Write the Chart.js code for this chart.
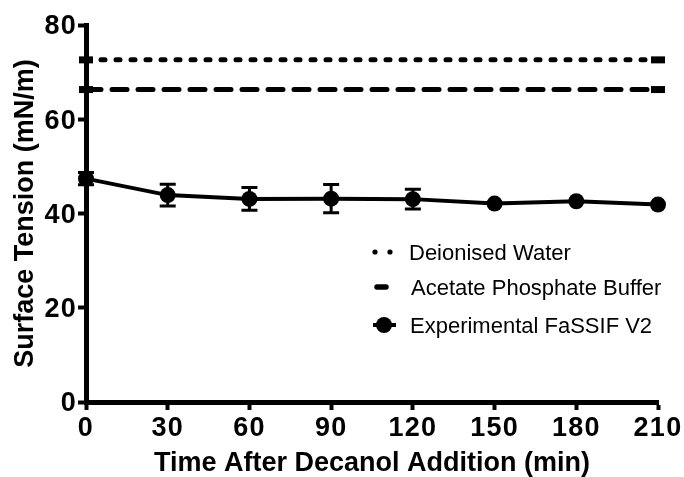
<!DOCTYPE html>
<html>
<head>
<meta charset="utf-8">
<script src="https://cdn.jsdelivr.net/npm/chart.js@4"></script>
<style>
  html, body { margin: 0; padding: 0; background: #fff; }
  #wrap { width: 684px; height: 477px; position: relative; }
</style>
</head>
<body>
<div id="wrap"><canvas id="c"></canvas></div>
<script>
// ---- data ----
const times = [0, 30, 60, 90, 120, 150, 180, 210];
const fassifMean = [47.4, 43.9, 43.1, 43.15, 43.05, 42.1, 42.6, 41.9];
const fassifErr = [1.3, 2.3, 2.4, 3.0, 2.1, 0, 0, 0];
const waterValue = 72.6;
const bufferValue = 66.3;
const seriesLabels = ["Deionised Water", "Acetate Phosphate Buffer", "Experimental FaSSIF V2"];
const xTicks = [0, 30, 60, 90, 120, 150, 180, 210];
const yTicks = [0, 20, 40, 60, 80];
const xTitle = "Time After Decanol Addition (min)";
const yTitle = "Surface Tension (mN/m)";

const FONT = "'Liberation Sans', Arial, Helvetica, sans-serif";

// slightly wider lettering for the tick numbers, as in the reference; titles unspaced
const spacing = {
  id: 'spacing',
  beforeDraw(chart) {
    chart.ctx.letterSpacing = '1.25px';
    [chart.scales.x, chart.scales.y].forEach(s => {
      if (s._wrappedTitle) return;
      const orig = s.drawTitle.bind(s);
      s.drawTitle = function () {
        const ctx = this.ctx;
        const prev = ctx.letterSpacing;
        ctx.letterSpacing = '0px';
        orig();
        ctx.letterSpacing = prev;
      };
      s._wrappedTitle = true;
    });
  }
};

const errorBars = {
  id: 'errorBars',
  afterDatasetsDraw(chart) {
    const ctx = chart.ctx;
    const xs = chart.scales.x, ys = chart.scales.y;
    ctx.save();
    ctx.strokeStyle = '#000';
    ctx.lineWidth = 3;
    times.forEach((t, i) => {
      const e = fassifErr[i];
      if (!e) return;
      const px = xs.getPixelForValue(t);
      const top = ys.getPixelForValue(fassifMean[i] + e);
      const bot = ys.getPixelForValue(fassifMean[i] - e);
      ctx.beginPath();
      ctx.moveTo(px, top); ctx.lineTo(px, bot);
      ctx.moveTo(px - 8, top); ctx.lineTo(px + 8, top);
      ctx.moveTo(px - 8, bot); ctx.lineTo(px + 8, bot);
      ctx.stroke();
    });
    ctx.restore();
  }
};

const customLegend = {
  id: 'customLegend',
  afterDraw(chart) {
    const ctx = chart.ctx;
    ctx.save();
    ctx.letterSpacing = '0px';
    ctx.fillStyle = '#000';
    ctx.strokeStyle = '#000';
    // row 1: dots
    ctx.beginPath(); ctx.arc(375, 252, 2.6, 0, Math.PI * 2); ctx.fill();
    ctx.beginPath(); ctx.arc(390, 252, 2.6, 0, Math.PI * 2); ctx.fill();
    // row 2: dash
    ctx.lineWidth = 5.5; ctx.lineCap = 'round';
    ctx.beginPath(); ctx.moveTo(377, 287); ctx.lineTo(386, 287); ctx.stroke();
    // row 3: line + circle
    ctx.lineWidth = 4; ctx.lineCap = 'butt';
    ctx.beginPath(); ctx.moveTo(373, 325); ctx.lineTo(396, 325); ctx.stroke();
    ctx.beginPath(); ctx.arc(384, 325, 8, 0, Math.PI * 2); ctx.fill();
    ctx.font = "22px " + FONT;
    ctx.textBaseline = 'alphabetic';
    ctx.textAlign = 'left';
    ctx.fillText(seriesLabels[0], 409, 260);
    ctx.fillText(seriesLabels[1], 411, 295);
    ctx.fillText(seriesLabels[2], 410, 333);
    ctx.restore();
  }
};

new Chart(document.getElementById('c'), {
  type: 'line',
  data: {
    datasets: [
      {
        label: seriesLabels[0],
        data: [{x: times[0], y: waterValue}, {x: times[times.length - 1], y: waterValue}],
        borderColor: '#000', backgroundColor: '#000',
        borderWidth: 5, borderDash: [4, 11], borderCapStyle: 'round',
        pointStyle: 'line', pointRadius: 7, pointBorderWidth: 7, pointBorderColor: '#000',
        clip: false
      },
      {
        label: seriesLabels[1],
        data: [{x: times[0], y: bufferValue}, {x: times[times.length - 1], y: bufferValue}],
        borderColor: '#000', backgroundColor: '#000',
        borderWidth: 5, borderDash: [15, 11], borderCapStyle: 'round',
        pointStyle: 'line', pointRadius: 7, pointBorderWidth: 7, pointBorderColor: '#000',
        clip: false
      },
      {
        label: seriesLabels[2],
        data: times.map((t, i) => ({x: t, y: fassifMean[i]})),
        borderColor: '#000', backgroundColor: '#000',
        borderWidth: 4,
        pointStyle: 'circle', pointRadius: 8, pointBorderWidth: 0,
        pointBackgroundColor: '#000',
        clip: false
      }
    ]
  },
  options: {
    responsive: true,
    maintainAspectRatio: false,
    animation: false,
    events: [],
    layout: { padding: { top: 25, right: 26, bottom: 0, left: 0 } },
    plugins: { legend: { display: false }, tooltip: { enabled: false } },
    scales: {
      x: {
        type: 'linear', min: 0, max: 210,
        afterBuildTicks(s) { s.ticks = xTicks.map(v => ({value: v})); },
        afterFit(s) { s.height = 75; },
        grid: { drawOnChartArea: false, drawTicks: true, tickLength: 8, tickWidth: 4, tickColor: '#000' },
        border: { display: true, color: '#000', width: 5 },
        ticks: { color: '#000', padding: 2, maxRotation: 0, autoSkip: false,
                 font: { family: FONT, size: 27, weight: 'bold' } },
        title: { display: true, text: xTitle, color: '#000', padding: { top: 0, bottom: 0 },
                 font: { family: FONT, size: 27, weight: 'bold', lineHeight: 1.0 } }
      },
      y: {
        type: 'linear', min: 0, max: 80,
        afterBuildTicks(s) { s.ticks = yTicks.map(v => ({value: v})); },
        afterFit(s) { s.width = 86; },
        grid: { drawOnChartArea: false, drawTicks: true, tickLength: 8, tickWidth: 4, tickColor: '#000' },
        border: { display: true, color: '#000', width: 5 },
        ticks: { color: '#000', padding: 1, labelOffset: 2, autoSkip: false,
                 font: { family: FONT, size: 27, weight: 'bold' } },
        title: { display: true, text: yTitle, color: '#000', padding: { top: 12, bottom: 0 },
                 font: { family: FONT, size: 27, weight: 'bold', lineHeight: 1.0 } }
      }
    }
  },
  plugins: [spacing, errorBars, customLegend]
});
</script>
</body>
</html>
